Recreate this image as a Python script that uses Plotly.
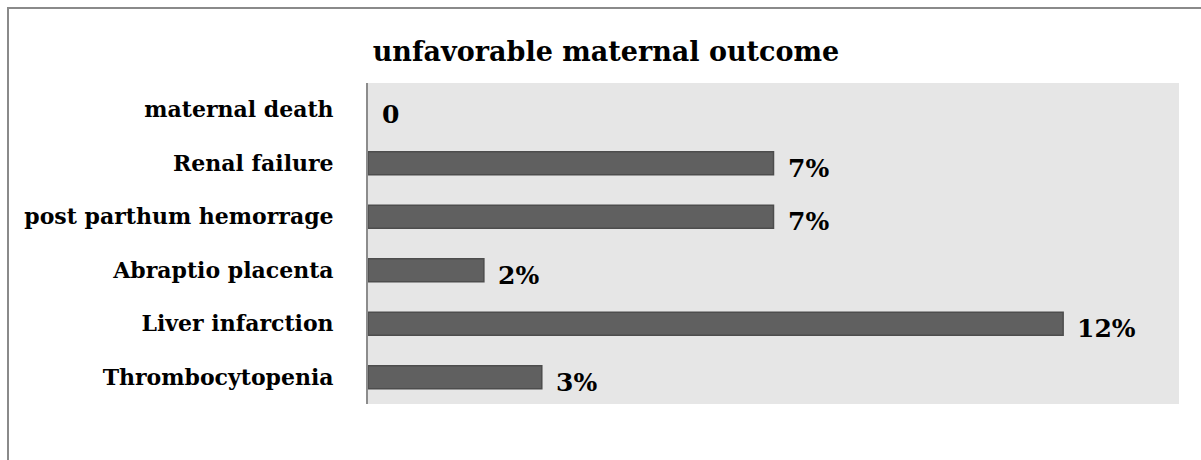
import plotly.graph_objects as go

categories = ["Thrombocytopenia", "Liver infarction", "Abraptio placenta",
              "post parthum hemorrage", "Renal failure", "maternal death"]
values = [3, 12, 2, 7, 7, 0]
value_labels = ["3%", "12%", "2%", "7%", "7%", "0"]
title_text = "unfavorable maternal outcome"

FONT = "DejaVu Serif"

fig = go.Figure()
fig.add_trace(go.Bar(
    x=values, y=categories, orientation="h",
    marker=dict(color="#606060",
                line=dict(color="#4d4d4d", width=[1.5 if v > 0 else 0 for v in values])),
    width=0.43, showlegend=False, hoverinfo="skip",
))

for v, c, t in zip(values, categories, value_labels):
    fig.add_annotation(x=v, y=c, text="<b>%s</b>" % t, showarrow=False,
                       xanchor="left", yanchor="middle", xshift=12, yshift=-5,
                       font=dict(family=FONT, size=25, color="black"))

W, H = 1201, 460
L, R, T, B = 368, 22, 83, 56
pw, ph = W - L - R, H - T - B

def px(xp):
    return (xp - L) / pw

def py(yp):
    return 1 - (yp - T) / ph

border = "#8a8a8a"
fig.add_shape(type="line", xref="paper", yref="paper", x0=px(8), x1=px(8), y0=py(8), y1=py(470),
              line=dict(color=border, width=2))
fig.add_shape(type="line", xref="paper", yref="paper", x0=px(7), x1=px(1205), y0=py(8), y1=py(8),
              line=dict(color=border, width=2))

fig.update_layout(
    width=W, height=H,
    margin=dict(l=L, r=R, t=T, b=B),
    paper_bgcolor="white", plot_bgcolor="#e6e6e6",
    title=dict(text="<b>%s</b>" % title_text, x=606 / W, xref="container", xanchor="center",
               y=1 - 52 / H, yanchor="middle",
               font=dict(family=FONT, size=27, color="black")),
    bargap=0.57,
)
fig.update_xaxes(range=[0, 14], showticklabels=False, showgrid=False, zeroline=False,
                 showline=False, fixedrange=True)
fig.update_yaxes(categoryorder="array", categoryarray=categories,
                 showgrid=False, zeroline=False, showline=True, linecolor="#8c8c8c", linewidth=2,
                 ticks="", ticklabelstandoff=28,
                 tickfont=dict(family=FONT, size=22, color="black"),
                 tickprefix="<b>", ticksuffix="</b>", fixedrange=True)

fig.write_html("out.html")
